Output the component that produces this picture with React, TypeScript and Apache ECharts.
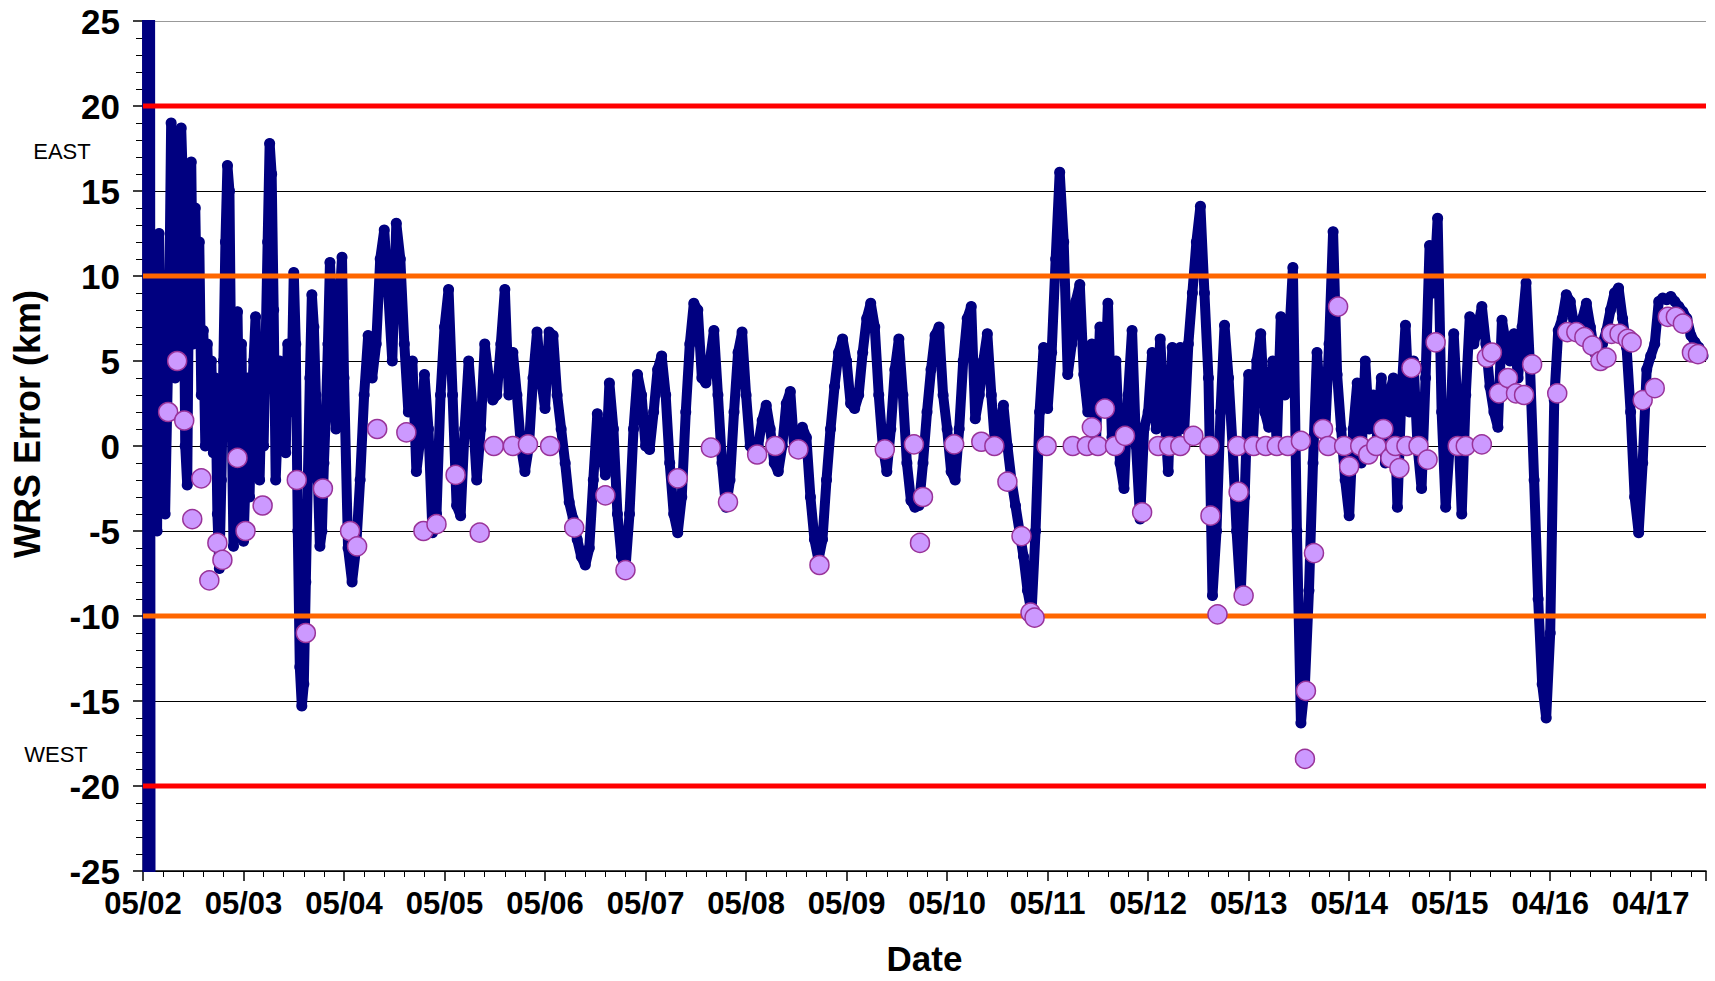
import React, { useEffect, useRef } from "react";
import * as echarts from "echarts";

// X tick labels (one per day, 0..15)
const dateLabels = [
  "05/02", "05/03", "05/04", "05/05", "05/06", "05/07", "05/08", "05/09",
  "05/10", "05/11", "05/12", "05/13", "05/14", "05/15", "04/16", "04/17",
];
const X_MAX = 15.55;
const SAMPLE_STEP = 0.04; // days between WRS samples in the day arrays
const FINE_STEP = 0.02; // denser sampling for the first two days
const BURST_STEP = 0.005;

// Initial start-up burst (values beyond the axis range), days 0.000-0.115
const burst = [31, -30, 29, -31, 30, -29, 32, -30, 30, -31, 29, -30, 31, -29, 30, -31, 29, -30, 31, -30, 30, -29, 31, -30];

// WRS error (km) per day
const d0 = [12, -5, 12.5, 3, 10, -4, 2, 8, 19, 17, 4, 14, 10, 18.7, 15, 0, -2.3, 12, 16.7, 6, 14, 7, 12, 3, 6.8, 0, 6, 1, 5, -0.4,
  4, -4, -7.2, -2, 5, 12, 16.5, 15, 3, -5.9, -3, 7.9, 0, 6]; // 0.12 .. 0.98, step 0.02
const d1 = [-5.6, -2, 4, -3, 2, 5, 7.6, 1, -2, 3, 0, 6, 12, 17.8, 16, 8, -2, 1, 5, 0, 4, -0.4, 6, 2, 4, 10.2, 6, -5, -13, -15.3,
  -14, -8, -2, 4, 8.9, 7, 3, -2, -5.9, -5, -1, 2, 6, 10.8, 8, 3, 1, 5, 9, 11.1]; // step 0.02
const d2 = [4, -6, -8, -6, -2, 3, 6.5, 4, 6, 11, 12.7, 9, 5, 13.1, 11, 6, 2, 5, -1.5, 0.5, 4.2, 1, -5.1, -4, 3];
const d3 = [7, 9.2, 3, -3.5, -4.1, 1, 5, 2, -2, 1, 6, 4, 2.7, 3, 6, 9.2, 3, 5.5, 3, 0, -1.5, 0, 4, 6.7, 4];
const d4 = [2.2, 6.7, 6.5, 3, 1, -1, -3.3, -4.3, -5.5, -6.5, -7, -6, -2, 1.9, 0, -1.7, 3.7, 1, -4, -6.5, -7.2, -4, 1, 4.2, 3];
const d5 = [0, -0.2, 2, 4.5, 5.3, 3, -1, -4, -5.1, -3, 2, 6, 8.4, 8, 4, 3.7, 5, 6.8, 3, -1, -3.6, -2, 2, 5.5, 6.7];
const d6 = [3, 0, -0.4, 0, 1.5, 2.4, 1, -1, -1.5, 0, 2.5, 3.2, -0.2, 0, 1.1, 0.5, -3, -5.5, -6.7, -5.5, -2, 1, 3.5, 5.5, 6.3];
const d7 = [5, 2.5, 2.2, 3, 5.5, 7.5, 8.4, 7, 3, 0, -1.5, 1, 4.5, 6.3, 3, -1, -3.2, -3.6, -3.5, -1, 2, 4.5, 6.5, 7, 3];
const d8 = [1, -1.5, -2, 1, 5, 7.5, 8.2, 1.6, 3, 5, 6.6, 3, -0.2, 1, 2.4, 0, -2, -3.5, -5, -6.5, -8.5, -9.8, -5, 2, 5.8];
const d9 = [2.2, 5.5, 11, 16.1, 12, 4.2, 6, 8.5, 9.5, 4.2, 2, 6, 0, 7, 2, 8.4, 0.5, 5, -1, -2.5, 3, 6.8, 0, -4.3, 1];
const d10 = [2, 5.5, 1, 6.3, 2, -1.5, 5.8, 0, 5.8, 1, 6, 9, 12, 14.1, 9, 4, -8.8, -5, 2, 7.1, 4, 0, -5, -8.8, -3];
const d11 = [4.2, 0, 5, 6.6, 2, 1.1, 5, 0, 7.6, 3, 6, 10.5, -5, -16.3, -14, -8.5, -1, 5.5, 2, 0.6, 6, 12.6, 4.2, 1, -2];
const d12 = [-4.1, 1, 3.7, -1, 5, 1, 3, 0.6, 4, -1, 3, 4, -3.6, 3, 7.1, 2, 5, 0, -2.5, 4, 11.8, 9, 13.4, 2, -3.6];
const d13 = [0, 6.6, 2, -4, 3, 7.6, 6, 7, 8.2, 6, 3.5, 2, 1.1, 7.4, 6, 5, 6.6, 4, 7, 9.6, 4.5, -2, -9, -14, -16];
const d14 = [-11, 2.7, 6.8, 7.5, 8.9, 8.5, 7, 6.8, 7.5, 8.4, 7, 5.5, 5, 6, 6.8, 8, 9, 9.3, 7.5, 5.8, 2, -3, -5.1, -1, 4.5];
const d15 = [5.3, 6, 8.5, 8.7, 8.6, 8.8, 8.5, 8.2, 7.9, 7.5, 6.5, 6.1, 5.8, 5.3];

// Lavender marker readings: day offsets and values
const markDays = [0.25, 0.34, 0.41, 0.49, 0.58, 0.66, 0.74, 0.79, 0.94, 1.02, 1.19, 1.53, 1.62, 1.79, 2.06, 2.13, 2.33, 2.62, 2.79, 2.92,
  3.11, 3.35, 3.49, 3.68, 3.83, 4.05, 4.29, 4.6, 4.8, 5.32, 5.65, 5.82, 6.11, 6.29, 6.52, 6.73, 7.38, 7.67, 7.73, 7.76,
  8.07, 8.34, 8.47, 8.6, 8.74, 8.83, 8.87, 8.99, 9.25, 9.39, 9.44, 9.5, 9.57, 9.67, 9.77, 9.94, 10.1, 10.21, 10.32, 10.45,
  10.61, 10.62, 10.69, 10.89, 10.9, 10.95, 11.05, 11.17, 11.28, 11.39, 11.52, 11.57, 11.56, 11.65, 11.74, 11.79, 11.89, 11.95, 12.0, 12.11,
  12.19, 12.27, 12.34, 12.41, 12.46, 12.5, 12.57, 12.62, 12.69, 12.78, 12.86, 13.08, 13.16, 13.32, 13.37, 13.42, 13.49, 13.58, 13.66, 13.74,
  13.82, 14.07, 14.17, 14.26, 14.34, 14.42, 14.5, 14.56, 14.61, 14.69, 14.77, 14.81, 14.92, 15.04, 15.17, 15.25, 15.32, 15.41, 15.47];
const markValues = [2.0, 5.0, 1.5, -4.3, -1.9, -7.9, -5.7, -6.7, -0.7, -5.0, -3.5, -2.0, -11.0, -2.5, -5.0, -5.9, 1.0, 0.8, -5.0, -4.6,
  -1.7, -5.1, 0, 0, 0.1, 0, -4.8, -2.9, -7.3, -1.9, -0.1, -3.3, -0.5, 0, -0.2, -7.0, -0.2, 0.1, -5.7, -3.0,
  0.1, 0.25, 0, -2.1, -5.3, -9.8, -10.1, 0, 0, 0, 1.1, 0, 2.2, 0, 0.6, -3.9, 0, 0, 0, 0.6,
  0, -4.1, -9.9, 0, -2.7, -8.8, 0, 0, 0, 0, 0.3, -14.4, -18.4, -6.3, 1.0, 0, 8.2, 0, -1.2, 0,
  -0.5, 0, 1.0, -0.7, 0, -1.3, 0, 4.6, 0, -0.8, 6.1, 0, 0, 0.1, 5.2, 5.5, 3.1, 4.0, 3.1, 3.0,
  4.8, 3.1, 6.7, 6.7, 6.4, 5.9, 5.0, 5.2, 6.6, 6.6, 6.3, 6.1, 2.7, 3.4, 7.6, 7.6, 7.2, 5.5, 5.4];

// Warning and alarm limits (km)
const alarmLimits = [20, -20];
const warnLimits = [10, -10];

const FONT = "'Liberation Sans', Arial, sans-serif";
const NAVY = "#000080";

function seg(values: number[], start: number, step: number): number[][] {
  return values.map((v, i) => [+(start + i * step).toFixed(4), v]);
}

export default function App() {
  const ref = useRef<HTMLDivElement>(null);
  useEffect(() => {
    if (!ref.current) return;
    const chart = echarts.init(ref.current, null, { renderer: "svg" });
    const wrs: number[][] = [
      ...seg(d0, 0.12, FINE_STEP),
      ...seg(d1, 1, FINE_STEP),
    ];
    [d2, d3, d4, d5, d6, d7, d8, d9, d10, d11, d12, d13, d14, d15].forEach((arr, k) => {
      wrs.push(...seg(arr, k + 2, SAMPLE_STEP));
    });
    const burstData = seg(burst, 0, BURST_STEP);
    const marks = markDays.map((d, i) => [d, markValues[i]]);
    const limitSeries = [
      ...alarmLimits.map((v) => ({ v, color: "#ff0000" })),
      ...warnLimits.map((v) => ({ v, color: "#ff6600" })),
    ].map(({ v, color }) => ({
      type: "line",
      data: [[0, v], [X_MAX, v]],
      symbol: "none",
      lineStyle: { color, width: 5 },
      z: 3,
      silent: true,
    }));

    const gridColors = Array.from({ length: 11 }, (_, i) => (i === 10 ? "#999999" : "#000000"));

    chart.setOption({
      animation: false,
      backgroundColor: "#ffffff",
      grid: { left: 143, top: 21, right: 9, bottom: 103, containLabel: false },
      xAxis: {
        type: "value",
        min: 0,
        max: X_MAX,
        interval: 1,
        name: "Date",
        nameLocation: "middle",
        nameGap: 70,
        nameTextStyle: { fontFamily: FONT, fontWeight: "bold", fontSize: 35, color: "#000" },
        axisLine: { show: true, onZero: false, lineStyle: { color: "#000", width: 1.5 } },
        axisTick: { show: true, length: 10, lineStyle: { color: "#000", width: 1.5 } },
        minorTick: { show: true, splitNumber: 5, length: 6, lineStyle: { color: "#000", width: 1 } },
        splitLine: { show: false },
        axisLabel: {
          margin: 17,
          fontFamily: FONT,
          fontWeight: "bold",
          fontSize: 31,
          color: "#000",
          showMaxLabel: false,
          formatter: (v: number) => (Number.isInteger(v) && dateLabels[v] ? dateLabels[v] : ""),
        },
      },
      yAxis: [
        {
          type: "value",
          min: -25,
          max: 25,
          interval: 5,
          axisLine: { show: true, onZero: false, lineStyle: { color: "#000", width: 1.5 } },
          axisTick: { show: true, length: 10, lineStyle: { color: "#000", width: 1.5 } },
          minorTick: { show: true, splitNumber: 5, length: 7, lineStyle: { color: "#000", width: 1 } },
          splitLine: { show: true, lineStyle: { color: gridColors, width: 1.2 } },
          axisLabel: {
            margin: 23,
            fontFamily: FONT,
            fontWeight: "bold",
            fontSize: 35,
            color: "#000",
          },
        },
        {
          type: "value",
          position: "right",
          min: -25,
          max: 25,
          axisLine: { show: true, lineStyle: { color: "#999999", width: 1.5 } },
          axisTick: { show: false },
          axisLabel: { show: false },
          splitLine: { show: false },
        },
      ],
      series: [
        {
          name: "Burst",
          type: "line",
          data: burstData,
          symbol: "none",
          clip: true,
          lineStyle: { color: NAVY, width: 2 },
          z: 2,
          silent: true,
        },
        {
          name: "WRS",
          type: "line",
          data: wrs,
          symbol: "circle",
          symbolSize: 11,
          showAllSymbol: true,
          clip: true,
          itemStyle: { color: NAVY, opacity: 1 },
          lineStyle: { color: NAVY, width: 10, cap: "round", join: "round" },
          z: 2,
          silent: true,
        },
        ...limitSeries,
        {
          name: "Marks",
          type: "scatter",
          data: marks,
          symbol: "circle",
          symbolSize: 19,
          itemStyle: { color: "#cc99ff", borderColor: "#993399", borderWidth: 1.5, opacity: 1 },
          z: 4,
          silent: true,
        },
      ],
      graphic: [
        {
          type: "text",
          x: 27,
          y: 424,
          rotation: Math.PI / 2,
          style: {
            text: "WRS Error (km)",
            fontFamily: FONT,
            fontWeight: "bold",
            fontSize: 36,
            fill: "#000",
            align: "center",
            verticalAlign: "middle",
          },
        },
        {
          type: "text",
          x: 62,
          y: 151,
          style: { text: "EAST", fontFamily: FONT, fontSize: 22, fill: "#000", align: "center", verticalAlign: "middle" },
        },
        {
          type: "text",
          x: 56,
          y: 754,
          style: { text: "WEST", fontFamily: FONT, fontSize: 22, fill: "#000", align: "center", verticalAlign: "middle" },
        },
      ],
    });
    return () => chart.dispose();
  }, []);
  return (
    <div
      ref={ref}
      style={{ position: "fixed", left: 0, top: 0, width: 1715, height: 981, background: "#fff" }}
    />
  );
}
